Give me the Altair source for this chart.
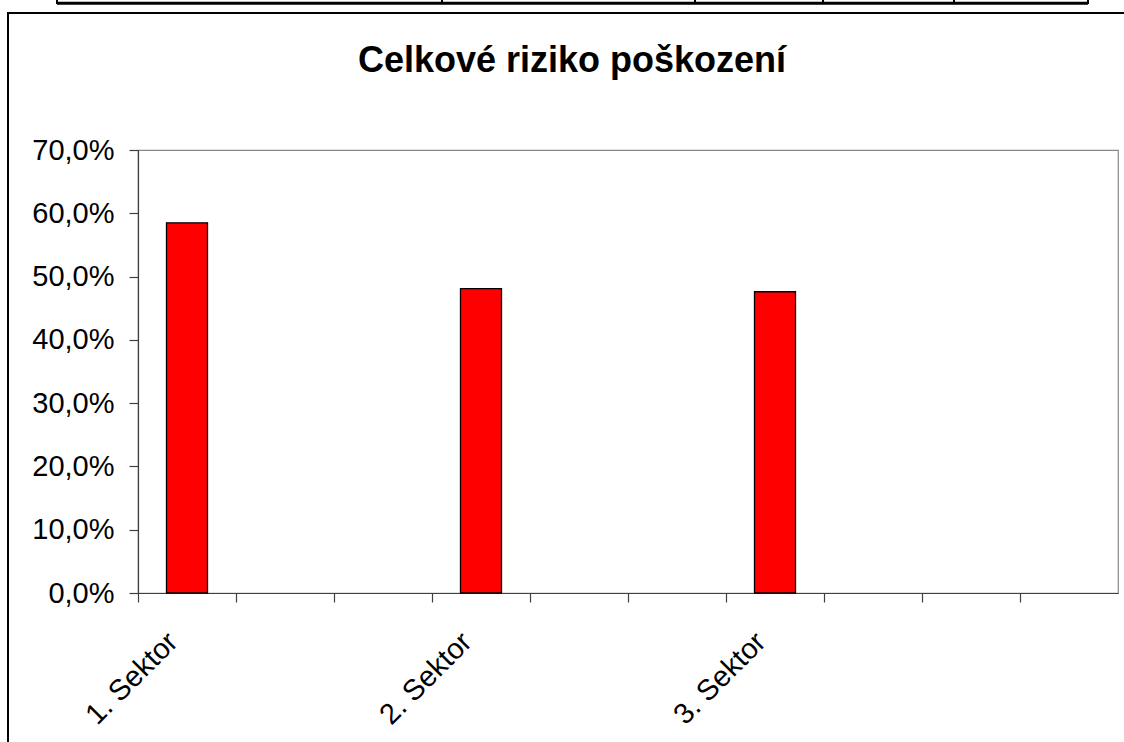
import altair as alt
import pandas as pd

# ---- data ----
slots = ["1. Sektor", "slot2", "slot3", "2. Sektor", "slot5", "slot6",
         "3. Sektor", "slot8", "slot9", "slot10"]
sectors = ["1. Sektor", "2. Sektor", "3. Sektor"]
risk = [0.585, 0.481, 0.476]
y_ticks = [0.0, 0.1, 0.2, 0.3, 0.4, 0.5, 0.6, 0.7]
title_text = "Celkové riziko poškození"

df = pd.DataFrame({"sector": sectors, "risk": risk})

FONT = "Liberation Sans"
W, H = 980, 443

bars = alt.Chart(df).mark_bar(
    size=41, color="#FF0000", stroke="#000000", strokeWidth=1.3
).encode(
    x=alt.X(
        "sector:N",
        scale=alt.Scale(domain=slots, paddingInner=0, paddingOuter=0),
        axis=alt.Axis(
            title=None,
            labelExpr="indexof(datum.value, 'Sektor') >= 0 ? datum.value : ''",
            labelAngle=315,
            labelAlign="right",
            labelBaseline="middle",
            labelOffset=-14,
            labelPadding=35,
            labelOverlap=False,
            bandPosition=0,
            tickSize=9,
            grid=False,
        ),
    ),
    y=alt.Y(
        "risk:Q",
        scale=alt.Scale(domain=[0, 0.7], nice=False, zero=True),
        axis=alt.Axis(
            title=None,
            values=y_ticks,
            labelExpr="round(datum.value * 100) + ',0%'",
            tickSize=9,
            labelPadding=15,
            grid=False,
        ),
    ),
)

# decorative outer chart frame and the table fragment above it (page decoration)
one = alt.Data(values=[{}])
frame = alt.Chart(one).mark_rect(
    filled=False, stroke="#000000", strokeWidth=2
).encode(
    x=alt.value(-130), x2=alt.value(1020), y=alt.value(-137), y2=alt.value(640)
)
table_h = alt.Chart(one).mark_rule(color="#000000", strokeWidth=3).encode(
    x=alt.value(-81), x2=alt.value(950), y=alt.value(-146.7)
)
table_v = [
    alt.Chart(one).mark_rule(color="#000000", strokeWidth=2).encode(
        x=alt.value(xv), y=alt.value(-152), y2=alt.value(-146)
    )
    for xv in [-81, 304, 557, 685, 816, 950]
]

chart = alt.layer(frame, table_h, *table_v, bars).properties(
    width=W,
    height=H,
    background="#FFFFFF",
    title=alt.TitleParams(
        title_text,
        font=FONT,
        fontSize=36,
        fontWeight="bold",
        color="#000000",
        anchor="middle",
        frame="group",
        dx=-56,
        dy=83,
        offset=0,
    ),
    padding={"left": 138, "top": 150, "right": 6, "bottom": 149},
    autosize=alt.AutoSizeParams(type="none"),
).configure_view(
    stroke="#888888", strokeWidth=1.2
).configure_axis(
    labelFont=FONT,
    labelFontSize=29,
    labelColor="#000000",
    domainColor="#404040",
    domainWidth=1.2,
    tickColor="#404040",
    tickWidth=1.2,
)

chart.save("out.html", embed_options={"renderer": "svg", "actions": False})
